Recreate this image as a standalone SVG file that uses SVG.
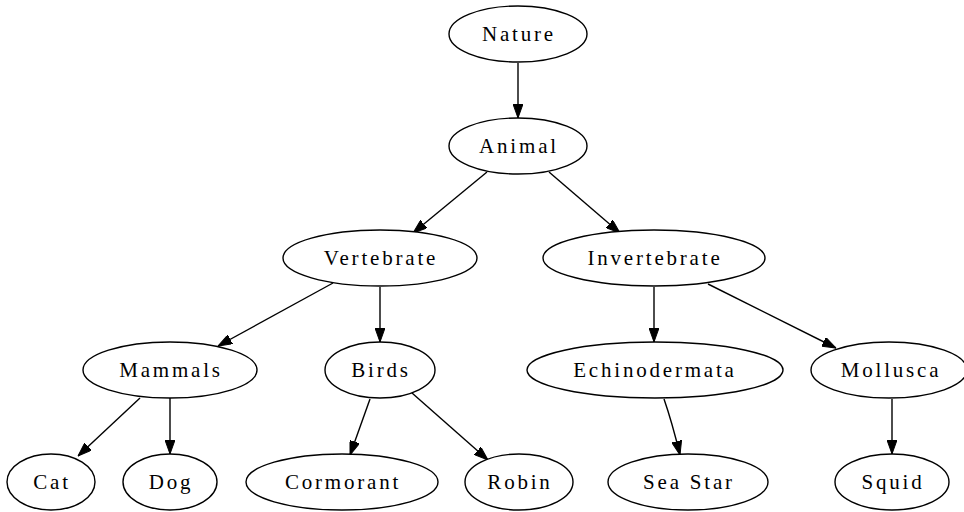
<svg xmlns="http://www.w3.org/2000/svg" width="964" height="512" viewBox="0 0 964 512">
<style>
.node ellipse{fill:#fff;stroke:#000;stroke-width:1.4}
.node text{font-family:"Liberation Serif","Times New Roman",serif;font-size:21px;letter-spacing:2.8px;text-anchor:middle;fill:#000}
.edges path{fill:none;stroke:#000;stroke-width:1.4}
</style>
<defs>
<marker id="arr" viewBox="0 0 14 10" refX="14" refY="5" markerWidth="14" markerHeight="10" markerUnits="userSpaceOnUse" orient="auto">
<path d="M0,0 L14,5 L0,10 Z" fill="#000" stroke="#000" stroke-width="1"/>
</marker>
</defs>
<rect width="964" height="512" fill="#fff"/>
<g class="edges">
<path d="M518,63 L518,118" marker-end="url(#arr)"/>
<path d="M487,172 L413,233" marker-end="url(#arr)"/>
<path d="M549,172 L620,233" marker-end="url(#arr)"/>
<path d="M333,283 L218,346" marker-end="url(#arr)"/>
<path d="M380,287 L380,342" marker-end="url(#arr)"/>
<path d="M654,287 L654,342" marker-end="url(#arr)"/>
<path d="M708,284 L836,348" marker-end="url(#arr)"/>
<path d="M140,398 L78,456" marker-end="url(#arr)"/>
<path d="M170,398 L170,454" marker-end="url(#arr)"/>
<path d="M370,399 L350,455" marker-end="url(#arr)"/>
<path d="M412,393 L488,460" marker-end="url(#arr)"/>
<path d="M664,399 Q672,422 680,455" marker-end="url(#arr)"/>
<path d="M892,399 L892,454" marker-end="url(#arr)"/>
</g>
<g id="nature" class="node"><ellipse cx="518" cy="34" rx="69" ry="28"/><text x="519" y="41">Nature</text></g>
<g id="animal" class="node"><ellipse cx="518" cy="146" rx="69" ry="28"/><text x="519" y="153">Animal</text></g>
<g id="vertebrate" class="node"><ellipse cx="380" cy="258" rx="97" ry="28"/><text x="381" y="265">Vertebrate</text></g>
<g id="invertebrate" class="node"><ellipse cx="654" cy="258" rx="111" ry="28"/><text x="655" y="265">Invertebrate</text></g>
<g id="mammals" class="node"><ellipse cx="170" cy="370" rx="87" ry="28"/><text x="171" y="377">Mammals</text></g>
<g id="birds" class="node"><ellipse cx="380" cy="370" rx="55" ry="28"/><text x="381" y="377">Birds</text></g>
<g id="echinodermata" class="node"><ellipse cx="655" cy="370" rx="128" ry="28"/><text x="655" y="377">Echinodermata</text></g>
<g id="mollusca" class="node"><ellipse cx="889" cy="370" rx="78" ry="28"/><text x="891" y="377">Mollusca</text></g>
<g id="cat" class="node"><ellipse cx="51" cy="482" rx="44" ry="28"/><text x="52" y="489">Cat</text></g>
<g id="dog" class="node"><ellipse cx="170" cy="482" rx="47" ry="28"/><text x="171" y="489">Dog</text></g>
<g id="cormorant" class="node"><ellipse cx="342" cy="482" rx="96" ry="28"/><text x="343" y="489">Cormorant</text></g>
<g id="robin" class="node"><ellipse cx="519" cy="482" rx="54" ry="28"/><text x="520" y="489">Robin</text></g>
<g id="seastar" class="node"><ellipse cx="688" cy="482" rx="80" ry="28"/><text x="689" y="489">Sea Star</text></g>
<g id="squid" class="node"><ellipse cx="892" cy="482" rx="57" ry="28"/><text x="893" y="489">Squid</text></g>
</svg>
